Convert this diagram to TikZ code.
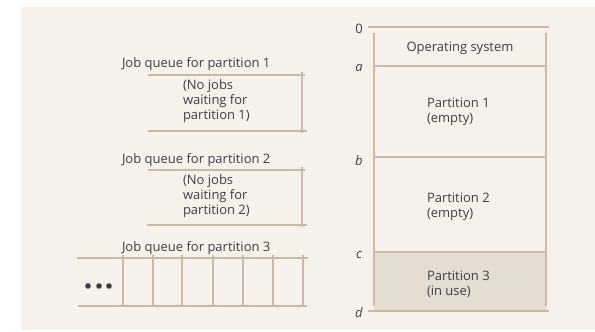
\documentclass[tikz,border=0pt]{standalone}
\usepackage{fontspec}
\setmainfont{Open Sans}
\definecolor{paper}{HTML}{F6F1EA}
\definecolor{rulec}{HTML}{C9B9A5}
\definecolor{inuse}{HTML}{E5DCD2}
\definecolor{ink}{HTML}{404040}
\tikzset{
  rule/.style={draw=rulec, line width=1.1pt},
  txt/.style={font=\fontsize{13}{14.6}\selectfont, text=ink, inner sep=0pt, outer sep=0pt},
  addr/.style={txt, font=\fontsize{13}{14.6}\selectfont\itshape, anchor=base},
  note/.style={txt, align=left, anchor=base west},
  jobdot/.style={fill=ink!90!black, draw=none}
}
\begin{document}
\begin{tikzpicture}[x=1pt, y=-1pt]
\useasboundingbox (0,0) rectangle (595,332);
\fill[white] (0,0) rectangle (595,332);
\fill[paper] (21,7) rectangle (595,330);

% ---------- memory map ----------
\coordinate (m0l) at (374,27);  \coordinate (m0r) at (546,27);
\coordinate (mal) at (374,66);  \coordinate (mar) at (546,66);
\coordinate (mbl) at (374,157); \coordinate (mbr) at (546,157);
\coordinate (mcl) at (374,252); \coordinate (mcr) at (546,252);
\coordinate (mdl) at (374,311); \coordinate (mdr) at (546,311);

\fill[inuse] (mcl) rectangle (mdr);
\draw[rule] ([xshift=-6pt]m0l) -- ([xshift=3pt]m0r);
\draw[rule] ([xshift=-6pt]mdl) -- ([xshift=3pt]mdr);
\draw[rule] (mal) -- (mar);
\draw[rule] (mbl) -- (mbr);
\draw[rule] (mcl) -- (mcr);
\draw[rule] ([yshift=-6pt]m0l) -- ([yshift=5pt]mdl);
\draw[rule] ([yshift=-6pt]m0r) -- ([yshift=5pt]mdr);

\node[addr] (l0) at (359,34) {\upshape 0};
\node[addr] (la) at (359,71) {a};
\node[addr] (lb) at (359,165) {b};
\node[addr] (lc) at (359,258) {c};
\node[addr] (ld) at (359,317) {d};

% multi-line nodes: base anchor sits on the last line
\node[txt, anchor=base] (os) at (460,51) {Operating system};
\node[note] (p1) at (427,122) {Partition 1\\(empty)};
\node[note] (p2) at (427,217) {Partition 2\\(empty)};
\node[note] (p3) at (427,295) {Partition 3\\(in use)};

% ---------- job queue 1 ----------
\node[txt, anchor=base west] (q1t) at (122,67) {Job queue for partition 1};
\coordinate (q1a) at (148,75);  \coordinate (q1b) at (305,75);
\coordinate (q1c) at (148,131); \coordinate (q1d) at (307,131);
\coordinate (q1e) at (302,72);  \coordinate (q1f) at (302,133);
\draw[rule] (q1a) -- (q1b);
\draw[rule] (q1c) -- (q1d);
\draw[rule] (q1e) -- (q1f);
\node[note] (q1n) at (183,119) {(No jobs\\waiting for\\partition 1)};

% ---------- job queue 2 ----------
\node[txt, anchor=base west] (q2t) at (122,163) {Job queue for partition 2};
\coordinate (q2a) at (148,170); \coordinate (q2b) at (305,170);
\coordinate (q2c) at (147,225); \coordinate (q2d) at (307,225);
\coordinate (q2e) at (302,167); \coordinate (q2f) at (302,227);
\draw[rule] (q2a) -- (q2b);
\draw[rule] (q2c) -- (q2d);
\draw[rule] (q2e) -- (q2f);
\node[note] (q2n) at (183,214) {(No jobs\\waiting for\\partition 2)};

% ---------- job queue 3 ----------
\node[txt, anchor=base west] (q3t) at (122,251) {Job queue for partition 3};
\coordinate (q3a) at (77,258);  \coordinate (q3b) at (308,258);
\coordinate (q3c) at (78,306);  \coordinate (q3d) at (307,306);
\draw[rule] (q3a) -- (q3b);
\draw[rule] (q3c) -- (q3d);
\foreach \x in {123,153,182,213,243,273,303}
  \draw[rule] (\x,255) -- (\x,307);
\foreach \x/\n in {88/1,99/2,109/3}
  \fill[jobdot] (\x,286) circle (2.8pt) coordinate (dot\n);
\end{tikzpicture}
\end{document}
